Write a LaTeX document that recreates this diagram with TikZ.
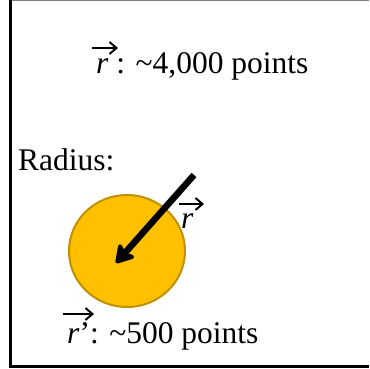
\documentclass[tikz,border=0pt]{standalone}
\usepackage{fontspec}
\setmainfont{Liberation Serif}
\usetikzlibrary{arrows.meta,shapes.geometric}
\definecolor{gold}{HTML}{FFC000}
\definecolor{golddark}{HTML}{BF9000}
\tikzset{
  lbl/.style={anchor=base west, inner sep=0pt, font=\fontsize{31.5}{38}\selectfont},
  vecarrow/.style={line width=2pt, -{Straight Barb[length=7pt,width=12pt,line width=2pt]}},
  bigarrow/.style={line width=6.5pt, -{Stealth[length=21pt,width=25pt,inset=5pt,round]}},
}
\begin{document}
\begin{tikzpicture}[x=1pt,y=-1pt]
\useasboundingbox (0,0) rectangle (369,369);
% frame
\draw[gray, line width=1.2pt] (10,0.6) -- (369,0.6);
\draw[line width=3pt] (10.5,0) -- (10.5,366.5) -- (369,366.5);
% top label
\node[lbl] (t) at (96,74) {\textit{r} : \textasciitilde 4,000 points};
\coordinate (ta) at (92,48);
\coordinate (tb) at (118,48);
\draw[vecarrow] (ta) -- (tb);
% radius
\node[lbl] (rad) at (18,170) {Radius:};
\node[draw=golddark, fill=gold, line width=2pt, ellipse, minimum width=116pt, minimum height=112pt, inner sep=0pt] (c) at (127,251) {};
\coordinate (s) at (194,175);
\coordinate (tip) at (116,263);
\draw[bigarrow] (s) -- (tip);
\node[lbl] (rm) at (181,228) {\textit{r}};
\coordinate (ma) at (179,204);
\coordinate (mb) at (204,204);
\draw[vecarrow] (ma) -- (mb);
% bottom label
\node[lbl] (b) at (67,343) {\textit{r}’: \textasciitilde 500 points};
\coordinate (ba) at (63,314);
\coordinate (bb) at (94,314);
\draw[vecarrow] (ba) -- (bb);
\end{tikzpicture}
\end{document}
